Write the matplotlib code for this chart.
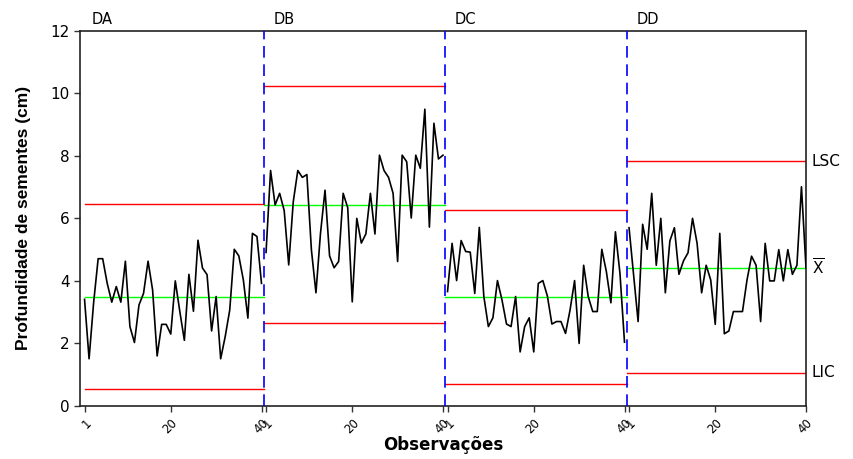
import numpy as np
import matplotlib
matplotlib.use("Agg")
import matplotlib.pyplot as plt

groups = ["DA", "DB", "DC", "DD"]

da = [3.41, 1.51, 3.3, 4.71, 4.71, 3.92, 3.32, 3.82, 3.32, 4.63,
      2.54, 2.03, 3.23, 3.6, 4.63, 3.71, 1.6, 2.61, 2.61, 2.3,
      4.0, 3.02, 2.1, 4.21, 3.03, 5.3, 4.41, 4.2, 2.4, 3.5,
      1.51, 2.22, 3.07, 5.01, 4.8, 4.03, 2.81, 5.52, 5.42, 3.92]
db = [4.91, 7.53, 6.43, 6.8, 6.25, 4.51, 6.53, 7.53, 7.31, 7.4,
      4.99, 3.62, 5.52, 6.9, 4.8, 4.42, 4.62, 6.8, 6.34, 3.33,
      6.0, 5.21, 5.5, 6.8, 5.5, 8.02, 7.53, 7.31, 6.8, 4.62,
      8.02, 7.81, 6.01, 8.02, 7.6, 9.49, 5.72, 9.04, 7.9, 8.02]
dc = [3.66, 5.2, 4.01, 5.29, 4.94, 4.92, 3.6, 5.71, 3.5, 2.54,
      2.82, 4.01, 3.39, 2.62, 2.54, 3.5, 1.73, 2.54, 2.82, 1.73,
      3.92, 4.01, 3.52, 2.62, 2.7, 2.7, 2.32, 3.07, 4.01, 2.0,
      4.5, 3.5, 3.02, 3.02, 5.01, 4.3, 3.3, 5.57, 4.24, 2.04]
dd = [5.7, 4.2, 2.7, 5.81, 5.01, 6.8, 4.5, 6.0, 3.62, 5.28,
      5.7, 4.21, 4.64, 4.9, 6.0, 5.2, 3.62, 4.5, 4.03, 2.61,
      5.52, 2.31, 2.4, 3.02, 3.02, 3.02, 4.03, 4.79, 4.5, 2.7,
      5.2, 4.0, 4.0, 5.0, 4.0, 5.0, 4.21, 4.5, 7.01, 4.42]
series = [da, db, dc, dd]

ucl = [6.47, 10.22, 6.27, 7.83]
mean = [3.50, 6.43, 3.50, 4.42]
lcl = [0.54, 2.64, 0.70, 1.06]

tick_obs = [1, 20, 40]
n = 40

fig = plt.figure(figsize=(8.54, 4.59), dpi=100)
ax = fig.add_axes([80/854, 1-406/459, (806-80)/854, (406-30.7)/459])

for k, vals in enumerate(series):
    x = np.arange(1, n+1) + n*k
    ax.plot(x, vals, color="black", lw=1.2, zorder=3)
    x0 = max(n*k + 0.5, 1)
    x1 = min(n*(k+1) + 0.5, n*4)
    ax.plot([x0, x1], [ucl[k]]*2, color="#ff0000", lw=1.0, zorder=2)
    ax.plot([x0, x1], [lcl[k]]*2, color="#ff0000", lw=1.0, zorder=2)
    ax.plot([x0, x1], [mean[k]]*2, color="#00ff00", lw=1.0, zorder=2)
    ax.text(n*k + 2.6, 12.22, groups[k], fontsize=10.5, ha="left", va="baseline",
            family="DejaVu Sans")
    if k > 0:
        ax.axvline(n*k + 0.5, color="#0000ff", lw=1.2, ls=(0, (7, 4)), zorder=4)

ax.set_xlim(0, n*4)
ax.set_ylim(0, 12)
ticks = [t + n*k for k in range(4) for t in tick_obs]
labels = [str(t) for k in range(4) for t in tick_obs]
ax.set_xticks(ticks)
ax.set_xticklabels(labels, rotation=45, ha="right", va="top",
                   rotation_mode="anchor", fontsize=8.5)
ax.set_yticks(np.arange(0, 13, 2))
ax.set_yticklabels([str(v) for v in range(0, 13, 2)], fontsize=11)
ax.tick_params(axis="both", direction="out", length=4, width=1, color="#333333")
for s in ax.spines.values():
    s.set_linewidth(1.2)
    s.set_color("#222222")

# right side labels
last = len(series) - 1
ax.text(1.008, ucl[last], "LSC", transform=ax.get_yaxis_transform(),
        fontsize=11, va="center", ha="left")
ax.text(1.008, mean[last], r"$\overline{\mathrm{X}}$", transform=ax.get_yaxis_transform(),
        fontsize=11, va="center", ha="left")
ax.text(1.008, lcl[last], "LIC", transform=ax.get_yaxis_transform(),
        fontsize=11, va="center", ha="left")

ax.set_ylabel("Profundidade de sementes (cm)", fontsize=12.5, fontweight="bold",
              family="Liberation Sans", labelpad=14)
ax.set_xlabel("Observações", fontsize=12, fontweight="bold",
              family="DejaVu Sans", labelpad=0)

fig.savefig("out.png", dpi=100)
